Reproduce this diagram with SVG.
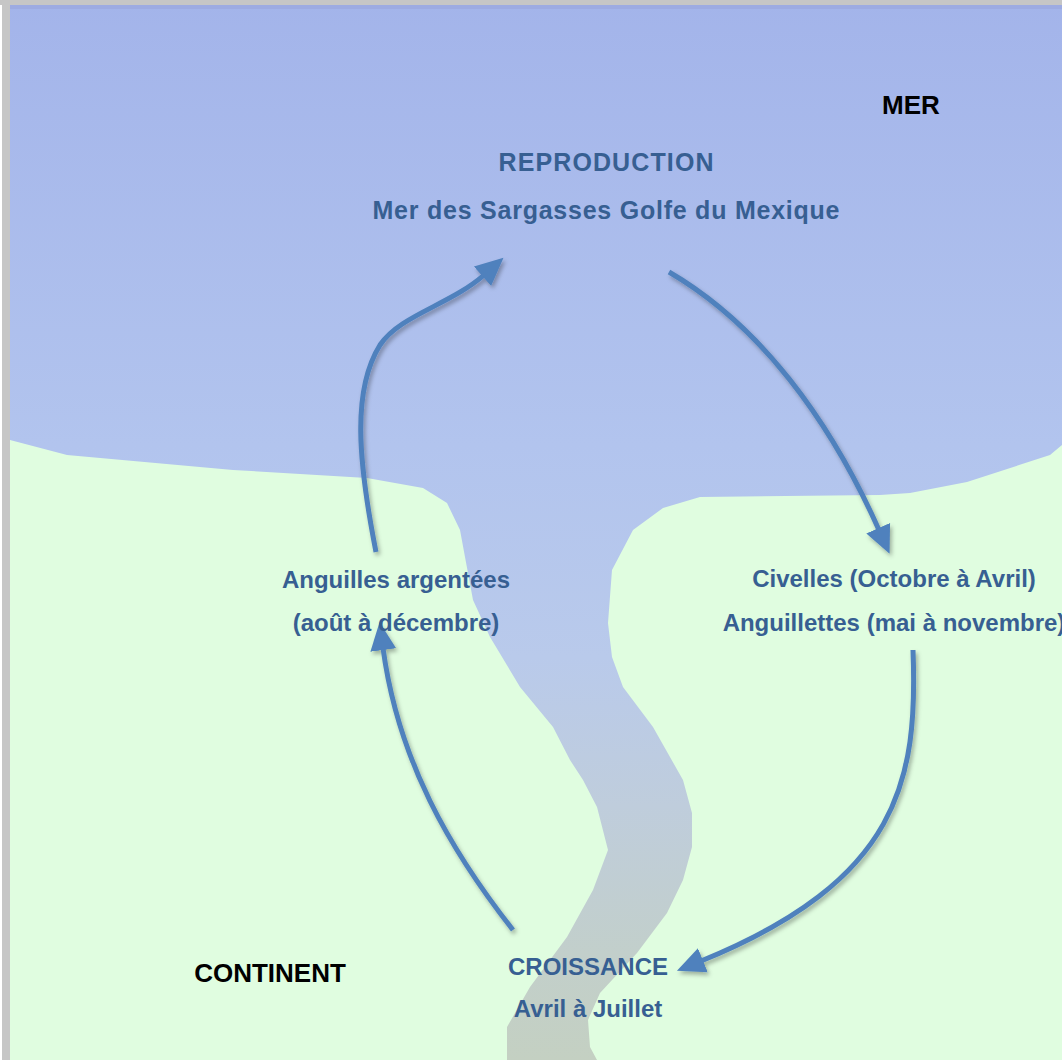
<svg xmlns="http://www.w3.org/2000/svg" width="1062" height="1060" viewBox="0 0 1062 1060">
  <style>
    .blue { font-family: "Liberation Sans", Arial, sans-serif; font-weight: bold; font-size: 24px; fill: #375f92; text-anchor: middle; }
    .title { font-size: 25px; }
    .black { font-family: "Liberation Sans", Arial, sans-serif; font-weight: bold; font-size: 26px; fill: #000000; text-anchor: middle; }
    .conn { fill: none; stroke: #4f81bd; stroke-width: 5; marker-end: url(#head); }
  </style>
  <defs>
    <linearGradient id="water" gradientUnits="userSpaceOnUse" x1="0" y1="0" x2="0" y2="1060">
      <stop offset="0" stop-color="#a3b4ea"/>
      <stop offset="0.42" stop-color="#b2c4ee"/>
      <stop offset="0.62" stop-color="#b9caeb"/>
      <stop offset="0.76" stop-color="#bfcddc"/>
      <stop offset="0.9" stop-color="#c2cfcb"/>
      <stop offset="1" stop-color="#c4d0c2"/>
    </linearGradient>
    <marker id="head" markerUnits="userSpaceOnUse" markerWidth="30" markerHeight="30" viewBox="0 0 30 30" refX="2" refY="15" orient="auto">
      <path d="M0,2 L28,15 L0,28 Z" fill="#4f81bd"/>
    </marker>
    <filter id="shadow" x="-20%" y="-20%" width="140%" height="140%">
      <feDropShadow dx="2" dy="3" stdDeviation="2" flood-color="#000000" flood-opacity="0.3"/>
    </filter>
  </defs>

  <g id="background">
    <rect x="0" y="0" width="1062" height="1060" fill="#ffffff"/>
    <rect x="2" y="0" width="9" height="1060" fill="#c6c6c6"/>
    <rect x="0" y="0" width="1062" height="5" fill="#c6c6c6"/>
    <rect x="10" y="5" width="1052" height="1055" fill="#e0fde0"/>
    <path id="sea-river" fill="url(#water)" d="M10,5 L1062,5 L1062,445 L1050,455 L967,482 L910,493 L880,495 L700,497 L663,508 L633,530 L612,570 L608,623 L612,657 L623,687 L653,727 L683,780 L692,813 L692,847 L683,880 L667,913 L637,953 L600,993 L588,1020 L590,1047 L597,1060 L507,1060 L507,1027 L530,987 L567,937 L593,890 L608,850 L597,807 L583,780 L570,760 L553,727 L520,687 L490,637 L473,600 L465,557 L460,530 L447,503 L423,488 L367,478 L233,470 L67,455 L10,440 Z"/>
    <rect x="10" y="5" width="1052" height="4" fill="#9aa6de" opacity="0.7"/>
  </g>

  <g id="connectors" filter="url(#shadow)">
    <path class="conn" d="M376,552 C358,460 352,390 380,345 C400,315 450,305 484,275"/>
    <path class="conn" d="M669,272 C760,325 830,420 879,530"/>
    <path class="conn" d="M913,650 C918,780 900,880 701,961"/>
    <path class="conn" d="M513,930 C450,850 398,760 383,648"/>
  </g>

  <g id="label-mer">
    <text class="black" x="911" y="114">MER</text>
  </g>
  <g id="label-continent">
    <text class="black" x="270" y="982">CONTINENT</text>
  </g>
  <g id="node-reproduction">
    <text class="blue title" x="606" y="171" textLength="215">REPRODUCTION</text>
    <text class="blue title" x="606" y="219" textLength="467">Mer des Sargasses Golfe du Mexique</text>
  </g>
  <g id="node-anguilles">
    <text class="blue" x="396" y="588">Anguilles argentées</text>
    <text class="blue" x="396" y="631">(août à décembre)</text>
  </g>
  <g id="node-civelles">
    <text class="blue" x="894" y="587">Civelles (Octobre à Avril)</text>
    <text class="blue" x="894" y="631">Anguillettes (mai à novembre)</text>
  </g>
  <g id="node-croissance">
    <text class="blue" x="588" y="975">CROISSANCE</text>
    <text class="blue" x="588" y="1017">Avril à Juillet</text>
  </g>
</svg>
